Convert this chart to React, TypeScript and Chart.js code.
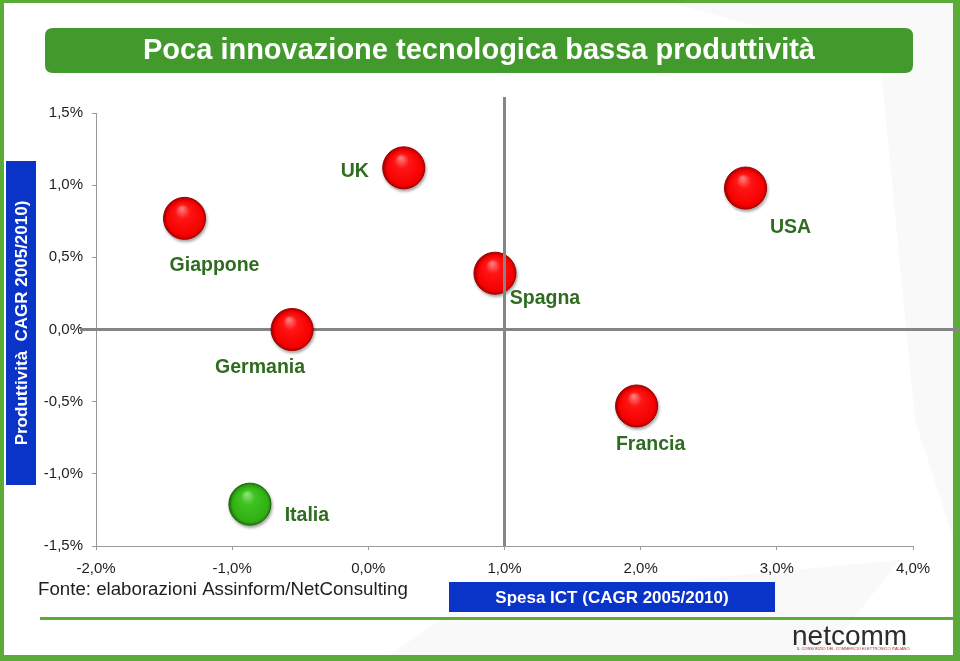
import React, { useEffect, useRef } from "react";
import { Chart, registerables } from "chart.js";

Chart.register(...registerables);

// ---- Data ----
const countries = ["Giappone", "UK", "USA", "Spagna", "Germania", "Francia", "Italia"];
const ictSpend = [-1.35, 0.26, 2.77, 0.93, -0.56, 1.97, -0.87]; // Spesa ICT CAGR (%)
const productivity = [0.77, 1.12, 0.98, 0.39, 0.0, -0.53, -1.21]; // Produttività CAGR (%)
const highlighted = ["Italia"];
const xTickMin = -2;
const xTickMax = 4;
const yTickMin = -1.5;
const yTickMax = 1.5;
const quadrantX = 1.0;
const quadrantY = 0.0;

const titleText = "Poca innovazione tecnologica bassa produttività";
const yTitleText = "Produttività  CAGR 2005/2010)";
const xTitleText = "Spesa ICT (CAGR 2005/2010)";
const sourceText = "Fonte: elaborazioni Assinform/NetConsulting";

// label placement relative to each bubble (pixels)
const labelOffsets: [number, number][] = [
  [30, 47],
  [-49, 4],
  [45, 40],
  [50, 25],
  [-32, 38],
  [14, 39],
  [57, 11],
];

const FONT = "'Liberation Sans', Arial, Helvetica, sans-serif";
const GREEN_FRAME = "#5aab38";
const GREEN_TITLE = "#439a2c";
const LABEL_GREEN = "#2f6b21";
const BLUE = "#0a33c8";

const fmt = (v: number) => v.toFixed(1).replace(".", ",") + "%";

function bubbleFill(chart: any, x: number, y: number, green: boolean) {
  const ctx = chart.ctx as CanvasRenderingContext2D;
  const g = ctx.createRadialGradient(x - 3, y - 10, 1, x + 1, y + 1, 22);
  if (green) {
    g.addColorStop(0, "#8fe070");
    g.addColorStop(0.3, "#3fc221");
    g.addColorStop(0.82, "#30b013");
    g.addColorStop(1, "#1b6e0a");
  } else {
    g.addColorStop(0, "#ff7a7a");
    g.addColorStop(0.3, "#ff1414");
    g.addColorStop(0.82, "#f50000");
    g.addColorStop(1, "#a30000");
  }
  return g;
}

const decorPlugin = {
  id: "decor",
  beforeDraw(chart: any) {
    const ctx = chart.ctx as CanvasRenderingContext2D;
    const W = chart.width;
    const H = chart.height;
    ctx.save();
    ctx.fillStyle = "#ffffff";
    ctx.fillRect(0, 0, W, H);
    // faint background shapes
    ctx.fillStyle = "rgba(0,0,0,0.025)";
    ctx.beginPath();
    ctx.moveTo(660, 0);
    ctx.lineTo(960, 0);
    ctx.lineTo(960, 560);
    ctx.lineTo(915, 420);
    ctx.lineTo(880, 60);
    ctx.closePath();
    ctx.fill();
    ctx.beginPath();
    ctx.moveTo(380, 661);
    ctx.lineTo(820, 661);
    ctx.lineTo(900, 560);
    ctx.lineTo(470, 600);
    ctx.closePath();
    ctx.fill();

    // frame
    ctx.fillStyle = GREEN_FRAME;
    ctx.fillRect(0, 0, W, 3);
    ctx.fillRect(0, 0, 4, H);
    ctx.fillRect(953, 0, W - 953, H);
    ctx.fillRect(0, 655, W, H - 655);
    ctx.fillRect(40, 617, 913, 3);

    // title box
    ctx.fillStyle = GREEN_TITLE;
    const r = 8;
    const bx = 45, by = 28, bw = 868, bh = 45;
    ctx.beginPath();
    ctx.moveTo(bx + r, by);
    ctx.lineTo(bx + bw - r, by);
    ctx.quadraticCurveTo(bx + bw, by, bx + bw, by + r);
    ctx.lineTo(bx + bw, by + bh - r);
    ctx.quadraticCurveTo(bx + bw, by + bh, bx + bw - r, by + bh);
    ctx.lineTo(bx + r, by + bh);
    ctx.quadraticCurveTo(bx, by + bh, bx, by + bh - r);
    ctx.lineTo(bx, by + r);
    ctx.quadraticCurveTo(bx, by, bx + r, by);
    ctx.fill();
    ctx.fillStyle = "#ffffff";
    ctx.font = `bold 29px ${FONT}`;
    ctx.textAlign = "center";
    ctx.textBaseline = "middle";
    ctx.fillText(titleText, 479, 51);

    // y axis title box
    ctx.fillStyle = BLUE;
    ctx.fillRect(6, 161, 30, 324);
    ctx.save();
    ctx.translate(22, 323);
    ctx.rotate(-Math.PI / 2);
    ctx.fillStyle = "#ffffff";
    ctx.font = `bold 17px ${FONT}`;
    ctx.fillText(yTitleText, 0, 0);
    ctx.restore();

    // x axis title box
    ctx.fillStyle = BLUE;
    ctx.fillRect(449, 582, 326, 30);
    ctx.fillStyle = "#ffffff";
    ctx.font = `bold 17px ${FONT}`;
    ctx.fillText(xTitleText, 612, 598);

    // source
    ctx.fillStyle = "#1e1e1e";
    ctx.font = `18.7px ${FONT}`;
    ctx.textAlign = "left";
    ctx.fillText(sourceText, 38, 590);

    // logo
    ctx.fillStyle = "#2b2b2b";
    ctx.font = `28px ${FONT}`;
    ctx.textAlign = "left";
    ctx.textBaseline = "alphabetic";
    ctx.fillText("netcomm", 792, 645);
    ctx.fillStyle = "#b22";
    ctx.font = `4px ${FONT}`;
    ctx.fillText("IL CONSORZIO DEL COMMERCIO ELETTRONICO ITALIANO", 797, 650);
    ctx.restore();
  },
  beforeDatasetsDraw(chart: any) {
    const ctx = chart.ctx as CanvasRenderingContext2D;
    const y = chart.scales.y.getPixelForValue(quadrantY);
    ctx.save();
    ctx.strokeStyle = "#858585";
    ctx.lineWidth = 3;
    ctx.beginPath();
    ctx.moveTo(chart.chartArea.left - 16, y);
    ctx.lineTo(chart.width, y);
    ctx.stroke();
    ctx.restore();
    ctx.save();
    ctx.shadowColor = "rgba(0,0,0,0.35)";
    ctx.shadowBlur = 3;
    ctx.shadowOffsetX = 1;
    ctx.shadowOffsetY = 2;
  },
  afterDatasetsDraw(chart: any) {
    const ctx = chart.ctx as CanvasRenderingContext2D;
    ctx.restore();
    const x = chart.scales.x.getPixelForValue(quadrantX);
    ctx.save();
    ctx.strokeStyle = "#858585";
    ctx.lineWidth = 3;
    ctx.beginPath();
    ctx.moveTo(x, chart.chartArea.top - 16);
    ctx.lineTo(x, chart.chartArea.bottom);
    ctx.stroke();

    // data labels
    const meta = chart.getDatasetMeta(0);
    ctx.fillStyle = LABEL_GREEN;
    ctx.font = `bold 19.5px ${FONT}`;
    ctx.textAlign = "center";
    ctx.textBaseline = "middle";
    meta.data.forEach((el: any, i: number) => {
      const [dx, dy] = labelOffsets[i];
      ctx.fillText(countries[i], el.x + dx, el.y + dy);
    });
    ctx.restore();
  },
};

export default function App() {
  const ref = useRef<HTMLCanvasElement>(null);
  useEffect(() => {
    if (!ref.current) return;
    const points = countries.map((c, i) => ({ x: ictSpend[i], y: productivity[i] }));
    const chart = new Chart(ref.current, {
      type: "scatter",
      data: {
        datasets: [
          {
            label: "Paesi",
            data: points,
            pointRadius: 21,
            pointHoverRadius: 21,
            pointBorderWidth: 1,
            pointBorderColor: (c: any) =>
              highlighted.includes(countries[c.dataIndex]) ? "#1d6a0c" : "#9e0000",
            backgroundColor: (c: any) => {
              const green = highlighted.includes(countries[c.dataIndex]);
              const chart = c.chart;
              if (c.type !== "data" || !chart.chartArea || !c.raw) return green ? "#33bb18" : "#ff0000";
              const px = chart.scales.x.getPixelForValue(c.raw.x);
              const py = chart.scales.y.getPixelForValue(c.raw.y);
              return bubbleFill(chart, px, py, green);
            },
          },
        ],
      },
      options: {
        animation: false,
        responsive: false,
        events: [],
        layout: { padding: { top: 113, right: 47, bottom: 0, left: 0 } },
        plugins: { legend: { display: false }, tooltip: { enabled: false } },
        scales: {
          x: {
            type: "linear",
            min: xTickMin,
            max: xTickMax,
            afterFit: (s: any) => {
              s.height = 115;
            },
            ticks: {
              stepSize: 1,
              padding: 10,
              color: "#1e1e1e",
              font: { family: FONT, size: 15 },
              callback: (v: any) => fmt(Number(v)),
            },
            grid: { drawOnChartArea: false, tickLength: 4, color: "#9a9a9a" },
            border: { color: "#9a9a9a", width: 1 },
          },
          y: {
            type: "linear",
            min: yTickMin,
            max: yTickMax,
            afterFit: (s: any) => {
              s.width = 96;
            },
            ticks: {
              stepSize: 0.5,
              padding: 9,
              color: "#1e1e1e",
              font: { family: FONT, size: 15 },
              callback: (v: any) => fmt(Number(v)),
            },
            grid: { drawOnChartArea: false, tickLength: 4, color: "#9a9a9a" },
            border: { color: "#9a9a9a", width: 1 },
          },
        },
      },
      plugins: [decorPlugin],
    });
    return () => chart.destroy();
  }, []);
  return (
    <div style={{ position: "absolute", left: 0, top: 0, width: 960, height: 661, background: "#fff" }}>
      <canvas ref={ref} width={960} height={661} style={{ display: "block" }} />
    </div>
  );
}
